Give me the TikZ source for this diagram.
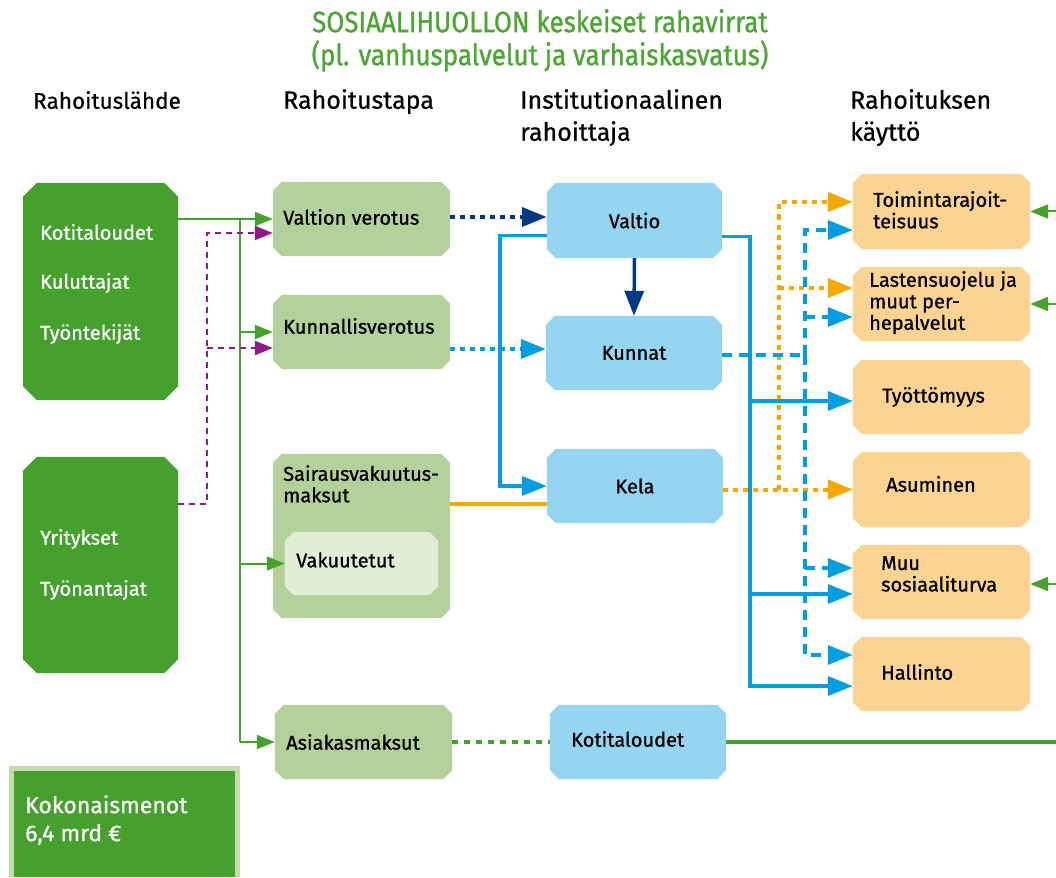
\documentclass[tikz,border=0pt]{standalone}
\usepackage{fontspec}
\setmainfont{Fira Sans}[FakeBold=0.8]
\newfontfamily\condf{Fira Sans}[FakeStretch=0.88,FakeBold=1]
\newfontfamily\headf{Fira Sans}[FakeBold=0.6]
\usetikzlibrary{arrows.meta,calc,backgrounds}
\definecolor{titgreen}{HTML}{4CA535}
\definecolor{dgreen}{HTML}{45A02D}
\definecolor{lgbox}{HTML}{B5D19B}
\definecolor{vakbox}{HTML}{E1EDD5}
\definecolor{bbox}{HTML}{96D5F1}
\definecolor{obox}{HTML}{FBD392}
\definecolor{bline}{HTML}{009EE0}
\definecolor{dblue}{HTML}{003A84}
\definecolor{oline}{HTML}{F5A800}
\definecolor{purp}{HTML}{8A1C87}
\definecolor{gline}{HTML}{46A12E}
\definecolor{totb}{HTML}{C3DCAA}
\newcommand\chfill[3]{%
 \begin{pgfonlayer}{background}
 \fill[#2] ($(#1.north west)+(#3,0)$) -- ($(#1.north east)+(-#3,0)$) -- ($(#1.north east)+(0,#3)$) -- ($(#1.south east)+(0,-#3)$) -- ($(#1.south east)+(-#3,0)$) -- ($(#1.south west)+(#3,0)$) -- ($(#1.south west)+(0,-#3)$) -- ($(#1.north west)+(0,#3)$) -- cycle;
 \end{pgfonlayer}}
\begin{document}
\begin{tikzpicture}[x=1pt,y=-1pt,
 bx/.style={rectangle,inner sep=0pt,draw=none},
 txt/.style={font=\fontsize{20}{21.5}\selectfont,inner sep=0pt,anchor=west,align=left},
 wtxt/.style={txt,text=white},
 hd/.style={font=\headf\fontsize{25}{32}\selectfont,inner sep=0pt,anchor=north west,align=left},
 gl/.style={draw=gline,line width=2pt},
 garr/.style={gl,-{Triangle[length=18pt,width=14pt]}},
 parr/.style={draw=purp,line width=2.5pt,dash pattern=on 6pt off 5pt,-{Triangle[length=18pt,width=14pt]}},
 bsol/.style={draw=bline,line width=3.5pt},
 barr/.style={bsol,-{Triangle[length=25pt,width=19pt]}},
 dbarr/.style={draw=dblue,line width=4pt,dash pattern=on 5pt off 5pt,-{Triangle[length=25pt,width=19pt]}},
 dbsarr/.style={draw=dblue,line width=3.5pt,-{Triangle[length=25pt,width=19pt]}},
 lbarr/.style={draw=bline,line width=4pt,dash pattern=on 5pt off 5pt,-{Triangle[length=25pt,width=19pt]}},
 bdash/.style={draw=bline,line width=3.5pt,dash pattern=on 10pt off 7pt},
 bdarr/.style={bdash,-{Triangle[length=25pt,width=19pt]}},
 osol/.style={draw=oline,line width=3.5pt},
 oarr/.style={draw=oline,line width=4pt,dash pattern=on 5pt off 5pt,-{Triangle[length=25pt,width=19pt]}},
 gdot/.style={draw=gline,line width=4pt,dash pattern=on 6pt off 6pt},
 gthick/.style={draw=gline,line width=3.5pt}]
\useasboundingbox (0,0) rectangle (1056,877);

% title and headers
\node[font=\condf\fontsize{29.5}{33}\selectfont,text=titgreen,align=center,inner sep=0pt,anchor=north] (title) at (540,9)
 {SOSIAALIHUOLLON keskeiset rahavirrat\\(pl. vanhuspalvelut ja varhaiskasvatus)};
\node[hd,font=\headf\fontsize{22.5}{32}\selectfont] (h1) at (33,91) {Rahoituslähde};
\node[hd] (h2) at (283,89) {Rahoitustapa};
\node[hd] (h3) at (520,89) {Institutionaalinen\\rahoittaja};
\node[hd] (h4) at (850,89) {Rahoituksen\\käyttö};

% boxes
\node[bx,minimum width=155,minimum height=217] (src1) at (100.5,291.5) {};
\node[bx,minimum width=155,minimum height=216] (src2) at (100.5,565) {};
\node[bx,minimum width=177,minimum height=74] (vv) at (361.5,219) {};
\node[bx,minimum width=177,minimum height=74] (kv) at (361.5,332) {};
\node[bx,minimum width=177,minimum height=164] (sv) at (361.5,536) {};
\node[bx,minimum width=153,minimum height=63] (vak) at (361.5,563.5) {};
\node[bx,minimum width=177,minimum height=74] (am) at (363.5,742) {};
\node[bx,minimum width=175,minimum height=75,font=\fontsize{20}{21}\selectfont] (valtio) at (634.5,220.5) {Valtio};
\node[bx,minimum width=176,minimum height=74,font=\fontsize{20}{21}\selectfont] (kunnat) at (634,353) {Kunnat};
\node[bx,minimum width=176,minimum height=74,font=\fontsize{20}{21}\selectfont] (kela) at (635,486) {Kela};
\node[bx,minimum width=176,minimum height=74] (koti) at (638,742) {};
\node[bx,minimum width=177,minimum height=75] (o1) at (941.5,211.5) {};
\node[bx,minimum width=177,minimum height=74] (o2) at (941.5,304) {};
\node[bx,minimum width=177,minimum height=74] (o3) at (941.5,397) {};
\node[bx,minimum width=177,minimum height=75] (o4) at (941.5,489.5) {};
\node[bx,minimum width=177,minimum height=74] (o5) at (941.5,582) {};
\node[bx,minimum width=177,minimum height=74] (o6) at (941.5,674) {};

\chfill{src1}{dgreen}{14}
\chfill{src2}{dgreen}{14}
\chfill{vv}{lgbox}{9}
\chfill{kv}{lgbox}{9}
\chfill{sv}{lgbox}{9}
\chfill{vak}{vakbox}{9}
\chfill{am}{lgbox}{9}
\chfill{valtio}{bbox}{9}
\chfill{kunnat}{bbox}{9}
\chfill{kela}{bbox}{9}
\chfill{koti}{bbox}{9}
\chfill{o1}{obox}{9}
\chfill{o2}{obox}{9}
\chfill{o3}{obox}{9}
\chfill{o4}{obox}{9}
\chfill{o5}{obox}{9}
\chfill{o6}{obox}{9}

% total box
\fill[totb] (9,766) rectangle (240,877);
\fill[dgreen] (14,771) rectangle (235,877);
\node[wtxt,anchor=north west,font=\fontsize{23}{28}\selectfont] (tot) at (25,795) {Kokonaismenot\\6,4 mrd €};

% texts
\node[wtxt] (s1a) at (40,232) {Kotitaloudet};
\node[wtxt] (s1b) at (40,283) {Kuluttajat};
\node[wtxt] (s1c) at (40,334) {Työntekijät};
\node[wtxt] (s2a) at (40,539) {Yritykset};
\node[wtxt] (s2b) at (40,590) {Työnantajat};
\node[txt] (tvv) at (283,217) {Valtion verotus};
\node[txt] (tkv) at (283,326) {Kunnallisverotus};
\node[txt,anchor=north west] (tsv) at (283,465) {Sairausvakuutus-\\maksut};
\node[txt] (tvak) at (296,560) {Vakuutetut};
\node[txt] (tam) at (286,742) {Asiakasmaksut};
\node[txt] (tkoti) at (571,739) {Kotitaloudet};
\node[txt,anchor=north west] (to1) at (873,191) {Toimintarajoit-\\teisuus};
\node[txt,anchor=north west] (to2) at (869,271) {Lastensuojelu ja\\muut per-\\hepalvelut};
\node[txt] (to3) at (882,397) {Työttömyys};
\node[txt] (to4) at (886,484) {Asuminen};
\node[txt,anchor=north west] (to5) at (881,556) {Muu\\sosiaaliturva};
\node[txt] (to6) at (881,672) {Hallinto};

% green source connectors
\coordinate (g0) at (src1.east |- vv.west);
\coordinate (gx) at ($(g0)+(62,0)$);
\draw[garr] (g0) -- (vv.west);
\draw[gl] (gx) -- (gx |- am.west);
\draw[garr] (gx |- kv.west) -- (kv.west);
\draw[garr] (gx |- vak.west) -- (vak.west);
\draw[garr] (gx |- am.west) -- (am.west);

% purple
\coordinate (p0) at ($(src2.north east)+(0,47)$);
\coordinate (px) at ($(p0)+(29,0)$);
\coordinate (vvp) at ($(vv.west)+(0,14)$);
\coordinate (kvp) at ($(kv.west)+(0,16)$);
\draw[parr] (p0) -- (px) |- (vvp);
\draw[parr] (px |- kvp) -- (kvp);

% taxation to institutions
\coordinate (a1) at ($(vv.east)+(0,-2)$);
\draw[dbarr] (a1) -- (a1 -| valtio.west);
\coordinate (a2) at ($(kv.east)+(0,17)$);
\draw[lbarr] (a2) -- (a2 -| kunnat.west);
\draw[dbsarr] (valtio.south) -- (kunnat.north);

% orange solid
\coordinate (c1) at ($(sv.east)+(0,-32)$);
\draw[osol] (c1) -- (c1 -| kela.west);

% orange dotted
\coordinate (d0) at (kela.east |- o4.west);
\coordinate (dx) at ($(d0)+(56,0)$);
\coordinate (d1) at ($(o1.west)+(0,-9.5)$);
\coordinate (d2) at ($(o2.west)+(0,-16)$);
\draw[oarr] (d0) -- (o4.west);
\draw[oarr] (dx) |- (d1);
\draw[oarr] (dx |- d2) -- (d2);

% blue dashed from Kunnat
\coordinate (e0) at ($(kunnat.east)+(0,2)$);
\coordinate (ex) at ($(e0)+(83,0)$);
\coordinate (e1) at ($(o1.west)+(0,18.5)$);
\coordinate (e2) at ($(o2.west)+(0,13)$);
\coordinate (e5) at ($(o5.west)+(0,-14)$);
\coordinate (e6) at ($(o6.west)+(0,-19)$);
\draw[bdash] (e0) -- (ex);
\draw[bdarr] (ex) |- (e1);
\draw[bdarr] (ex) |- (e6);
\draw[bdarr] (ex |- e2) -- (e2);
\draw[bdarr] (ex |- e5) -- (e5);

% blue solid
\coordinate (b1) at ($(valtio.west)+(0,15)$);
\draw[barr] (b1) -- ++(-47,0) |- (kela.west);
\coordinate (b2) at ($(valtio.east)+(0,16)$);
\coordinate (bx) at ($(b2)+(28,0)$);
\coordinate (t3) at ($(o3.west)+(0,4)$);
\coordinate (t5) at ($(o5.west)+(0,12)$);
\coordinate (t6) at ($(o6.west)+(0,12)$);
\draw[barr] (b2) -- (bx) |- (t6);
\draw[barr] (bx |- t3) -- (t3);
\draw[barr] (bx |- t5) -- (t5);

% bottom green
\coordinate (rg) at (1056,742);
\draw[gdot] (am.east) -- (koti.west);
\draw[gthick] (koti.east) -- (koti.east -| rg);
\draw[garr] (o1.east -| rg) -- (o1.east);
\draw[garr] (o2.east -| rg) -- (o2.east);
\draw[garr] ($(o5.east -| rg)+(0,2)$) -- ($(o5.east)+(0,2)$);
\end{tikzpicture}
\end{document}
